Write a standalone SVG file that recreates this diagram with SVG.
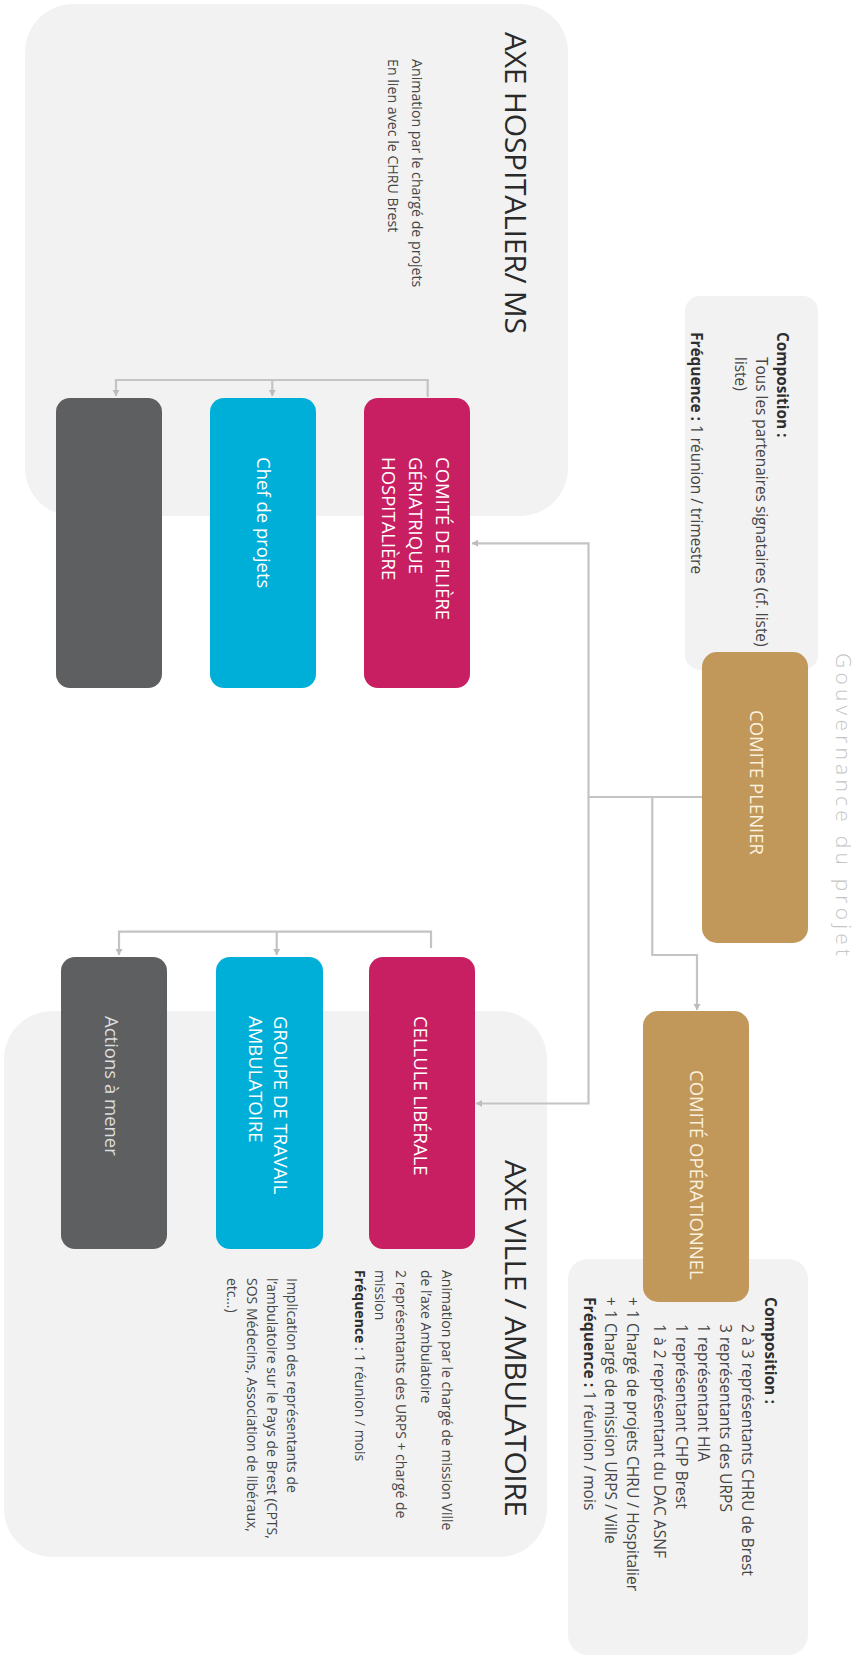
<svg xmlns="http://www.w3.org/2000/svg" width="859" height="1656" viewBox="0 0 859 1656">
<defs>
<style>
.panel{fill:#f2f2f2}
.mag{fill:#c81e62}
.cya{fill:#00afd8}
.drk{fill:#5e5f61}
.gld{fill:#c2975a}
.lbl{font-family:"Open Sans","Liberation Sans",sans-serif;font-size:18.5px}
.wht{fill:#ffffff}
.lgt{fill:#dcdcdc}
.crm{fill:#fbf1df}
.ttl{font-family:"Open Sans","Liberation Sans",sans-serif;font-size:30px;fill:#2a2a2a}
.body{font-family:"Open Sans","Liberation Sans",sans-serif;fill:#454545}
.b{font-weight:bold;fill:#2e2e2e}
.gov{font-family:"Open Sans","Liberation Sans",sans-serif;font-size:21px;font-weight:300;fill:#c6c6c6}
.conn{fill:none;stroke:#c4c4c4;stroke-width:2.2}
</style>
<marker id="arr" markerUnits="userSpaceOnUse" markerWidth="8" markerHeight="8" refX="6" refY="3.5" orient="auto"><path d="M0,0 L6,3.5 L0,7 z" fill="#bcbcbc"/></marker>
</defs>
<rect width="859" height="1656" fill="#ffffff"/>

<g id="axe-hospitalier">
<rect class="panel" x="25" y="4" width="543" height="512" rx="48"/>
<text class="ttl" transform="translate(505,32) rotate(90)" textLength="302">AXE HOSPITALIER/ MS</text>
<text class="body" font-size="14.2" transform="translate(411.5,59) rotate(90)"><tspan x="0" dy="0">Animation par le chargé de projets</tspan><tspan x="0" dy="24">En lien avec le CHRU Brest</tspan></text>
</g>

<g id="axe-ville">
<rect class="panel" x="4" y="1011" width="543" height="546" rx="48"/>
<text class="ttl" transform="translate(504.5,1160) rotate(90)" textLength="357">AXE VILLE / AMBULATOIRE</text>
<text class="body" font-size="14" transform="translate(442,1270) rotate(90)"><tspan x="0" dy="0">Animation par le chargé de mission Ville</tspan><tspan x="0" dy="21.5">de l’axe Ambulatoire</tspan><tspan x="0" dy="25">2 représentants des URPS + chargé de</tspan><tspan x="0" dy="20.5">mission</tspan><tspan x="0" dy="20.5"><tspan class="b">Fréquence</tspan> : 1 réunion / mois</tspan></text>
<text class="body" font-size="14" transform="translate(287,1278) rotate(90)"><tspan x="0" dy="0">Implication des représentants de</tspan><tspan x="0" dy="20">l’ambulatoire sur le Pays de Brest (CPTS,</tspan><tspan x="0" dy="20">SOS Médecins, Association de libéraux,</tspan><tspan x="0" dy="20">etc…)</tspan></text>
</g>

<g id="composition-plenier">
<rect class="panel" x="685" y="296" width="133" height="374" rx="15"/>
<text class="body" font-size="15.4" transform="translate(777,332) rotate(90)"><tspan x="0" dy="0" class="b">Composition :</tspan><tspan x="25" dy="21">Tous les partenaires signataires (cf. liste)</tspan><tspan x="25" dy="21.5">liste)</tspan><tspan x="0" dy="43.5"><tspan class="b">Fréquence :</tspan> 1 réunion / trimestre</tspan></text>
</g>

<g id="composition-operationnel">
<rect class="panel" x="568" y="1259" width="240" height="396" rx="20"/>
<text class="body" font-size="15.6" transform="translate(764.5,1297) rotate(90)"><tspan x="0" dy="0" class="b">Composition :</tspan><tspan x="27" dy="22.5">2 à 3 représentants CHRU de Brest</tspan><tspan x="27" dy="22">3 représentants des URPS</tspan><tspan x="27" dy="22">1 représentant HIA</tspan><tspan x="27" dy="22">1 représentant CHP Brest</tspan><tspan x="27" dy="22.5">1 à 2 représentant du DAC ASNF</tspan><tspan x="0" dy="26.5">+ 1 Chargé de projets CHRU / Hospitalier</tspan><tspan x="0" dy="22">+ 1 Chargé de mission URPS / Ville</tspan><tspan x="0" dy="21.5"><tspan class="b">Fréquence :</tspan> 1 réunion / mois</tspan></text>
</g>

<g id="connecteurs">
<path class="conn" d="M703,797 H588.5 V543.3 H472" marker-end="url(#arr)"/>
<path class="conn" d="M588.5,797 V1103.5 H476" marker-end="url(#arr)"/>
<path class="conn" d="M652.3,797 V955 H697 V1010" marker-end="url(#arr)"/>
<path class="conn" d="M427.7,397 V380 H116 V396" marker-end="url(#arr)"/>
<path class="conn" d="M272.3,380 V396" marker-end="url(#arr)"/>
<path class="conn" d="M431,948 V931.7 H119 V955" marker-end="url(#arr)"/>
<path class="conn" d="M276.7,931.7 V955" marker-end="url(#arr)"/>
</g>

<g id="comite-plenier">
<rect class="gld" x="702" y="652" width="106" height="291" rx="15"/>
<text class="lbl crm" transform="translate(750,710) rotate(90)">COMITE PLENIER</text>
</g>

<g id="comite-operationnel">
<rect class="gld" x="643" y="1011" width="106" height="291" rx="15"/>
<text class="lbl crm" transform="translate(689.5,1070) rotate(90)">COMITÉ OPÉRATIONNEL</text>
</g>

<g id="comite-filiere">
<rect class="mag" x="364" y="398" width="106" height="290" rx="14"/>
<text class="lbl wht" transform="translate(435.5,457) rotate(90)"><tspan x="0" dy="0">COMITÉ DE FILIÈRE</tspan><tspan x="0" dy="27">GÉRIATRIQUE</tspan><tspan x="0" dy="26.5">HOSPITALIÈRE</tspan></text>
</g>

<g id="chef-de-projets">
<rect class="cya" x="210" y="398" width="106" height="290" rx="14"/>
<text class="lbl wht" transform="translate(257,457) rotate(90)">Chef de projets</text>
</g>

<g id="actions-hospitalier">
<rect class="drk" x="56" y="398" width="106" height="290" rx="14"/>
</g>

<g id="cellule-liberale">
<rect class="mag" x="369" y="957" width="106" height="292" rx="14"/>
<text class="lbl wht" transform="translate(414,1016) rotate(90)">CELLULE LIBÉRALE</text>
</g>

<g id="groupe-travail">
<rect class="cya" x="216" y="957" width="107" height="292" rx="14"/>
<text class="lbl wht" transform="translate(274,1016) rotate(90)"><tspan x="0" dy="0">GROUPE DE TRAVAIL</tspan><tspan x="0" dy="25">AMBULATOIRE</tspan></text>
</g>

<g id="actions-a-mener">
<rect class="drk" x="61" y="957" width="106" height="292" rx="14"/>
<text class="lbl lgt" transform="translate(105,1016) rotate(90)">Actions à mener</text>
</g>

<g id="titre-gouvernance">
<text class="gov" transform="translate(836,653) rotate(90)" textLength="303">Gouvernance du projet</text>
</g>
</svg>
